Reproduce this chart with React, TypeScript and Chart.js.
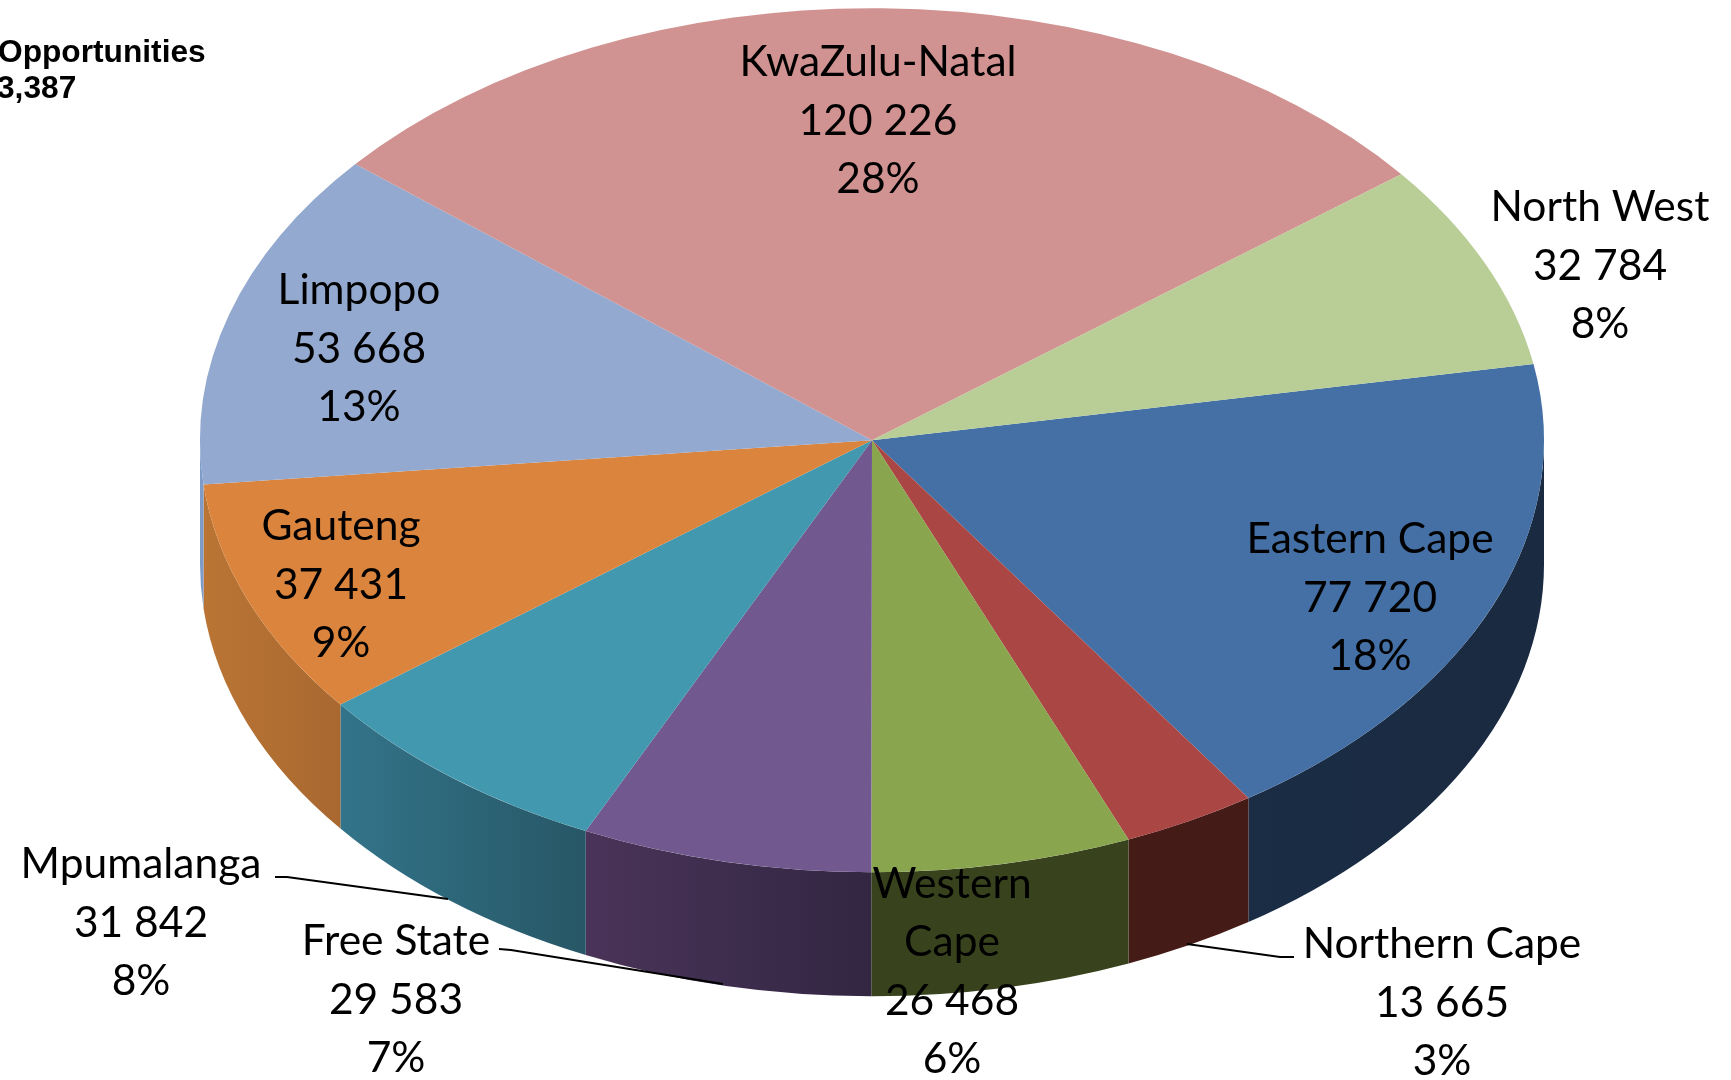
import React, { useEffect, useRef } from "react";
import { Chart, registerables } from "chart.js";

Chart.register(...registerables);

const categories = ["Eastern Cape", "Northern Cape", "Western Cape", "Free State", "Mpumalanga", "Gauteng", "Limpopo", "KwaZulu-Natal", "North West"];
const values = [77720, 13665, 26468, 29583, 31842, 37431, 53668, 120226, 32784];
const topColors = ["#4470A5", "#AA4643", "#89A54E", "#71588F", "#4198AF", "#DB843D", "#93A9CF", "#D19392", "#B9CD96"];
const wallLeftColors = ["#1A2D45", "#451B18", "#38431E", "#4A3459", "#33748A", "#BA7534", "#7F9CC9", "#D19392", "#B9CD96"];
const wallRightColors = ["#1A2A40", "#451B18", "#38431E", "#322642", "#275766", "#A86830", "#7F9CC9", "#D19392", "#B9CD96"];
const wrappedCategories = ["Western Cape"];
const headingLines = ["Opportunities", "3,387"];

// layout of the text and the leader lines, in page pixels
const labelCentersX = [1370, 1442, 952, 396, 141, 341, 359, 878, 1600];
const labelCentersY = [598, 1003, 972, 1000, 923, 585, 349, 121, 266];
const leaderLines: Record<string, number[][]> = {
  Mpumalanga: [[275, 877], [287, 877], [448, 899]],
  "Free State": [[499, 949], [511, 950], [723, 984]],
  "Northern Cape": [[1294, 957], [1280, 957], [1187, 944]],
};

const RADIUS = 672;
const SQUASH = 432 / 672;
const DEPTH = 124;
const LINE_H = 58.5;
const FONT = '42.5px Lato, "Open Sans", sans-serif';

const pie3d = {
  id: "pie3d",
  beforeDatasetDraw(chart: any) {
    const ctx = chart.ctx;
    const arcs = chart.getDatasetMeta(0).data;
    const { x: cx, y: cy } = arcs[0];
    const ry = RADIUS * SQUASH;

    // side walls, from the geometry of the arcs
    arcs.forEach((arc: any, i: number) => {
      const a0 = Math.max(arc.startAngle, 0);
      const a1 = Math.min(arc.endAngle, Math.PI);
      if (a1 <= a0) return;
      const xa = cx + RADIUS * Math.cos(a0);
      const xb = cx + RADIUS * Math.cos(a1);
      const g = ctx.createLinearGradient(xb, 0, xa, 0);
      g.addColorStop(0, wallLeftColors[i]);
      g.addColorStop(1, wallRightColors[i]);
      ctx.beginPath();
      ctx.ellipse(cx, cy, RADIUS, ry, 0, a0, a1);
      ctx.ellipse(cx, cy + DEPTH, RADIUS, ry, 0, a1, a0, true);
      ctx.closePath();
      ctx.fillStyle = g;
      ctx.fill();
    });

    ctx.save();
    ctx.translate(cx, cy);
    ctx.scale(1, SQUASH);
    ctx.translate(-cx, -cy);
  },
  afterDatasetDraw(chart: any) {
    chart.ctx.restore();
  },
  afterDatasetsDraw(chart: any) {
    const ctx = chart.ctx;
    const total = values.reduce((a, b) => a + b, 0);
    ctx.save();

    // leader lines
    ctx.strokeStyle = "#000";
    ctx.lineWidth = 2;
    Object.values(leaderLines).forEach((pts) => {
      ctx.beginPath();
      pts.forEach(([x, y], i) => (i ? ctx.lineTo(x, y) : ctx.moveTo(x, y)));
      ctx.stroke();
    });

    ctx.fillStyle = "#000";
    ctx.textAlign = "center";
    ctx.textBaseline = "middle";
    ctx.font = FONT;
    categories.forEach((name, i) => {
      const head = wrappedCategories.includes(name) ? name.split(" ") : [name];
      const lines = [
        ...head,
        String(values[i]).replace(/\B(?=(\d{3})+$)/g, " "),
        `${Math.round((values[i] / total) * 100)}%`,
      ];
      lines.forEach((t, k) => {
        const y = labelCentersY[i] + (k - (lines.length - 1) / 2) * LINE_H;
        ctx.fillText(t, labelCentersX[i], y);
      });
    });
    ctx.textAlign = "left";
    ctx.textBaseline = "alphabetic";
    ctx.font = 'bold 31.7px "Liberation Sans", Arial, sans-serif';
    ctx.fillText(headingLines[0], -2, 62);
    ctx.fillText(headingLines[1], -3, 98);
    ctx.restore();
  },
};

export default function App() {
  const ref = useRef<HTMLCanvasElement>(null);
  useEffect(() => {
    const chart = new Chart(ref.current as HTMLCanvasElement, {
      type: "pie",
      data: {
        labels: categories,
        datasets: [{ data: values, backgroundColor: topColors, borderWidth: 0, clip: false } as any],
      },
      options: {
        animation: false,
        responsive: false,
        radius: RADIUS,
        rotation: 79.85,
        layout: { padding: { left: 13, bottom: 199.5 } },
        plugins: { legend: { display: false }, tooltip: { enabled: false }, title: { display: false } },
      } as any,
      plugins: [pie3d],
    });
    return () => chart.destroy();
  }, []);
  return (
    <canvas
      ref={ref}
      width={1731}
      height={1080}
      style={{ position: "absolute", left: 0, top: 0, display: "block", background: "#fff" }}
    />
  );
}
